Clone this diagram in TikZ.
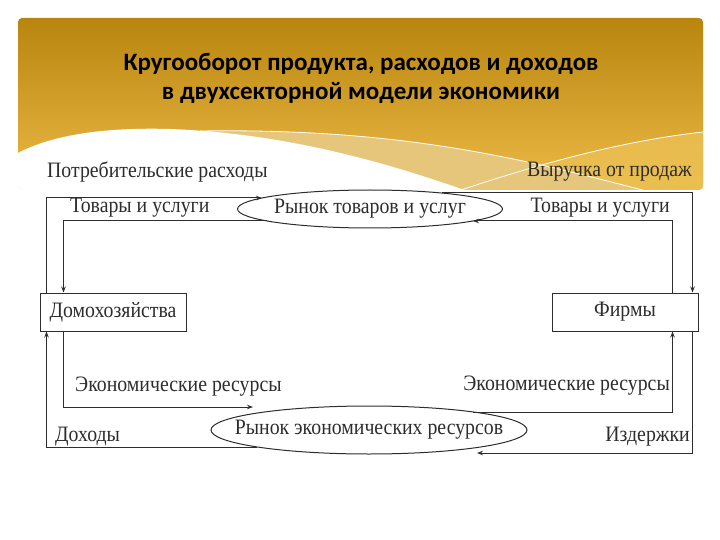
\documentclass[tikz,border=0pt]{standalone}
\usepackage{fontspec}
\setmainfont[FakeStretch=0.9]{Liberation Serif}
\newfontfamily\titlefont{Carlito}
\usetikzlibrary{shapes.geometric,calc,arrows.meta}
\definecolor{goldtop}{RGB}{184,134,14}
\definecolor{goldbottom}{RGB}{236,186,70}
\definecolor{paleband}{RGB}{230,198,122}
\definecolor{palegold}{RGB}{236,192,84}
\definecolor{inkgray}{RGB}{45,45,45}

\begin{document}
\begin{tikzpicture}[
    x=1pt, y=-1pt,
    arrowstyle/.style={draw=inkgray, line width=1pt, -{Stealth[length=6pt, width=4.5pt]}},
    sector/.style={rectangle, draw=inkgray, line width=1pt, minimum width=146pt,
        minimum height=38pt, inner sep=0pt, text=inkgray, font=\fontsize{22}{24}\selectfont},
    market/.style={ellipse, draw=inkgray, line width=1pt, inner sep=0pt,
        text=inkgray, font=\fontsize{22}{24}\selectfont},
    flowlabel/.style={inner sep=0pt, text=inkgray, font=\fontsize{22}{24}\selectfont},
    headline/.style={align=center, text=black, font=\titlefont\bfseries\fontsize{25}{29}\selectfont},
    waveline/.style={draw=white, line width=0.8pt}
]
\useasboundingbox (0,0) rectangle (720,540);

\begin{scope}
  \clip[rounded corners=4pt] (18,18) rectangle (703,190);
  \shade[top color=goldtop, bottom color=goldbottom] (18,18) rectangle (703,190);
  \fill[palegold, opacity=0.8] (455,192) .. controls (550,160) and (630,140) .. (703,132) -- (703,192) -- cycle;
  \fill[paleband] (200,131) .. controls (400,128) and (520,158) .. (650,192) -- (200,192) -- cycle;
  \fill[white] (18,153) .. controls (50,136) and (100,127) .. (170,129)
    .. controls (280,133) and (380,160) .. (470,192) -- (18,192) -- cycle;
  \draw[waveline] (200,131) .. controls (400,128) and (520,158) .. (650,192);
  \draw[waveline] (455,192) .. controls (550,160) and (630,140) .. (703,132);
\end{scope}

\node[headline] (title) at (361,78) {Кругооборот продукта, расходов и доходов\\в двухсекторной модели экономики};

\node[sector] (hh) at (113,312) {Домохозяйства};
\node[sector] (firm) at (625,312) {Фирмы};
\node[market, minimum width=265pt, minimum height=38pt] (goods) at (370,209) {\makebox[0pt]{Рынок товаров и услуг}};
\node[market, minimum width=316pt, minimum height=48pt] (res) at (369,430) {\makebox[0pt]{Рынок экономических ресурсов}};

\node[flowlabel, anchor=west] (spend) at (47,172) {Потребительские расходы};
\node[flowlabel, anchor=east] (revenue) at (692,172) {Выручка от продаж};
\node[flowlabel, anchor=west] (goodsL) at (70,208) {Товары и услуги};
\node[flowlabel, anchor=east] (goodsR) at (670,208) {Товары и услуги};
\node[flowlabel, anchor=west] (resL) at (75,387) {Экономические ресурсы};
\node[flowlabel, anchor=east] (resR) at (670,386) {Экономические ресурсы};
\node[flowlabel, anchor=west] (income) at (55,437) {Доходы};
\node[flowlabel, anchor=east] (costs) at (690,437) {Издержки};

\coordinate (gIn) at ($(goods.center)+(-108,-11)$);
\coordinate (gOut) at ($(goods.center)+(72,-16)$);
\coordinate (gL) at ($(goods.center)+(-103,12)$);
\coordinate (gR) at ($(goods.center)+(103,12)$);
\coordinate (rL) at ($(res.center)+(-116,-23)$);
\coordinate (rLo) at ($(res.center)+(-112,17)$);
\coordinate (rR) at ($(res.center)+(104,-18)$);
\coordinate (rRo) at ($(res.center)+(108,23)$);

\draw[arrowstyle] ([xshift=7pt]hh.north west) |- (gIn);
\draw[arrowstyle] (gOut) -| ([xshift=-6pt]firm.north east);
\draw[arrowstyle] (gL) -| ([xshift=24pt]hh.north west);
\draw[arrowstyle] ([xshift=-26pt]firm.north east) |- (gR);
\draw[arrowstyle] ([xshift=24pt]hh.south west) |- (rL);
\draw[arrowstyle] (rLo) -| ([xshift=7pt]hh.south west);
\draw[arrowstyle] (rR) -| ([xshift=-26pt]firm.south east);
\draw[arrowstyle] ([xshift=-6pt]firm.south east) |- (rRo);
\end{tikzpicture}
\end{document}
